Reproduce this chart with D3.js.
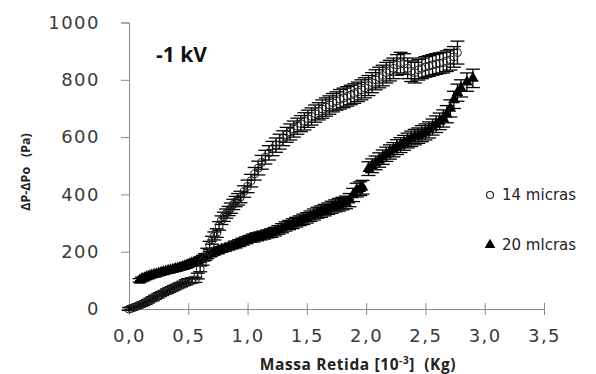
<!DOCTYPE html>
<html>
<head>
<meta charset="utf-8">
<script src="https://cdn.jsdelivr.net/npm/d3@7"></script>
<style>
  body { margin: 0; background: #fff; }
  svg { display: block; }
</style>
</head>
<body>
<svg id="chart" width="596" height="374"></svg>
<script>
// [massa, deltaP, erro]
const micras14 = [
  [0.00, 0, 5], [0.02, 2, 5], [0.04, 5, 5], [0.06, 8, 5], [0.08, 12, 6], [0.10, 15, 6],
  [0.12, 18, 6], [0.14, 22, 6], [0.16, 27, 6], [0.18, 32, 6], [0.20, 36, 7], [0.22, 41, 7],
  [0.24, 45, 7], [0.26, 50, 7], [0.28, 54, 7], [0.30, 58, 7], [0.32, 62, 8], [0.34, 66, 8],
  [0.36, 70, 8], [0.38, 74, 8], [0.40, 78, 8], [0.42, 82, 8], [0.44, 85, 8], [0.46, 89, 8],
  [0.48, 93, 9], [0.50, 97, 9], [0.53, 100, 9], [0.56, 102, 9], [0.58, 115, 10], [0.60, 140, 10],
  [0.62, 165, 12], [0.64, 181, 12], [0.66, 200, 12], [0.68, 222, 14], [0.70, 240, 14], [0.72, 255, 14],
  [0.74, 265, 15], [0.76, 290, 15], [0.78, 310, 15], [0.80, 322, 16], [0.82, 333, 16], [0.84, 342, 16],
  [0.86, 352, 18], [0.88, 365, 18], [0.90, 375, 18], [0.92, 383, 20], [0.94, 391, 20], [0.97, 410, 20],
  [1.00, 428, 22], [1.03, 448, 22], [1.06, 472, 22], [1.09, 492, 24], [1.12, 512, 24], [1.15, 530, 24],
  [1.18, 545, 25], [1.21, 560, 25], [1.24, 572, 25], [1.27, 584, 26], [1.30, 596, 26], [1.33, 608, 26],
  [1.36, 618, 28], [1.39, 628, 28], [1.42, 638, 28], [1.45, 647, 28], [1.48, 655, 30], [1.51, 664, 30],
  [1.54, 672, 30], [1.57, 682, 30], [1.60, 690, 30], [1.63, 698, 32], [1.66, 705, 32], [1.69, 712, 32],
  [1.72, 720, 32], [1.75, 726, 32], [1.78, 732, 34], [1.81, 737, 34], [1.84, 742, 34], [1.87, 747, 34],
  [1.90, 752, 34], [1.93, 758, 34], [1.96, 765, 35], [1.99, 772, 35], [2.02, 780, 35], [2.05, 790, 35],
  [2.08, 800, 35], [2.11, 808, 36], [2.14, 815, 36], [2.17, 825, 36], [2.20, 832, 36], [2.23, 840, 36],
  [2.26, 852, 36], [2.29, 860, 36], [2.32, 855, 36], [2.35, 840, 36], [2.38, 830, 36], [2.41, 825, 36],
  [2.44, 835, 36], [2.47, 840, 36], [2.50, 845, 36], [2.53, 848, 36], [2.56, 852, 36], [2.59, 855, 36],
  [2.62, 858, 36], [2.65, 860, 36], [2.68, 865, 36], [2.71, 870, 36], [2.74, 880, 36], [2.77, 895, 40]
];

const micras20 = [
  [0.09, 100, 6], [0.11, 105, 6], [0.13, 108, 6], [0.15, 112, 6], [0.17, 115, 6], [0.19, 118, 6],
  [0.21, 120, 6], [0.23, 122, 6], [0.25, 125, 6], [0.27, 127, 6], [0.29, 130, 7], [0.31, 132, 7],
  [0.33, 134, 7], [0.35, 136, 7], [0.37, 138, 7], [0.39, 140, 7], [0.41, 142, 7], [0.43, 145, 7],
  [0.45, 147, 8], [0.47, 150, 8], [0.49, 153, 8], [0.51, 157, 8], [0.53, 160, 8], [0.55, 163, 8],
  [0.57, 167, 8], [0.60, 172, 8], [0.63, 178, 9], [0.66, 185, 9], [0.69, 192, 9], [0.72, 198, 9],
  [0.75, 203, 10], [0.78, 208, 10], [0.81, 212, 10], [0.84, 216, 10], [0.87, 220, 10], [0.90, 225, 12],
  [0.93, 230, 12], [0.96, 235, 12], [0.99, 240, 12], [1.02, 245, 12], [1.05, 248, 14], [1.08, 252, 14],
  [1.11, 255, 14], [1.14, 258, 14], [1.17, 262, 14], [1.20, 265, 15], [1.23, 270, 15], [1.26, 276, 15],
  [1.29, 282, 16], [1.32, 288, 16], [1.35, 293, 16], [1.38, 298, 17], [1.41, 303, 17], [1.44, 308, 17],
  [1.47, 313, 18], [1.50, 318, 18], [1.53, 324, 18], [1.56, 330, 19], [1.59, 336, 19], [1.62, 340, 20],
  [1.65, 345, 20], [1.68, 350, 20], [1.71, 355, 21], [1.74, 360, 21], [1.77, 364, 22], [1.80, 368, 22],
  [1.83, 372, 22], [1.86, 380, 23], [1.89, 398, 23], [1.92, 415, 24], [1.95, 420, 24], [1.97, 425, 24],
  [2.02, 490, 24], [2.05, 500, 24], [2.08, 510, 24], [2.11, 520, 25], [2.14, 530, 25], [2.17, 540, 25],
  [2.20, 548, 25], [2.23, 556, 25], [2.26, 565, 26], [2.29, 572, 26], [2.32, 580, 26], [2.35, 588, 26],
  [2.38, 594, 27], [2.41, 600, 27], [2.44, 605, 27], [2.47, 612, 28], [2.50, 618, 28], [2.53, 625, 28],
  [2.56, 635, 28], [2.59, 645, 29], [2.62, 655, 29], [2.65, 665, 30], [2.68, 680, 30], [2.71, 700, 30],
  [2.74, 730, 30], [2.77, 755, 30], [2.80, 770, 30], [2.85, 792, 32], [2.90, 805, 32]
];

const xTicks = [0, 0.5, 1, 1.5, 2, 2.5, 3, 3.5];
const yTicks = [0, 200, 400, 600, 800, 1000];
const seriesNames = ['14 micras', '20 mlcras'];

const svg = d3.select('#chart');
const x = d3.scaleLinear().domain([0, 3.5]).range([129, 544]);
const y = d3.scaleLinear().domain([0, 1000]).range([309, 22.5]);
const axisColor = '#8a8a8a';
const labelFont = '"DejaVu Sans", sans-serif';
const fmt = d => d.toFixed(1).replace('.', ',');

// x axis, ticks cross the line
const gx = svg.append('g')
  .attr('transform', 'translate(0,' + y(0) + ')')
  .call(d3.axisBottom(x).tickValues(xTicks).tickFormat(fmt).tickSizeOuter(0).tickSize(6).tickPadding(14));
gx.select('.domain').attr('stroke', axisColor);
gx.selectAll('.tick line').attr('y1', -6).attr('y2', 6).attr('stroke', axisColor);
gx.selectAll('.tick text')
  .attr('fill', '#3a3a3a').style('font-family', labelFont).style('font-size', '18px')
  .style('letter-spacing', '1.5px');

// y axis
const gy = svg.append('g')
  .attr('transform', 'translate(' + x(0) + ',0)')
  .call(d3.axisLeft(y).tickValues(yTicks).tickFormat(d3.format('d')).tickSizeOuter(0).tickSize(8).tickPadding(21));
gy.select('.domain').attr('stroke', axisColor);
gy.selectAll('.tick line').attr('stroke', axisColor);
gy.selectAll('.tick').filter(d => d === 0).select('line').remove();
gy.selectAll('.tick text')
  .attr('fill', '#3a3a3a').style('font-family', labelFont).style('font-size', '18px')
  .style('letter-spacing', '1.5px');

// error bars
function errorBars(data, cap) {
  const g = svg.append('g').attr('stroke', '#000').attr('stroke-width', 1.3);
  g.selectAll('line.v').data(data).join('line')
    .attr('x1', d => x(d[0])).attr('x2', d => x(d[0]))
    .attr('y1', d => y(d[1] - d[2])).attr('y2', d => y(d[1] + d[2]));
  g.selectAll('line.top').data(data).join('line').attr('class', 'top')
    .attr('x1', d => x(d[0]) - cap).attr('x2', d => x(d[0]) + cap)
    .attr('y1', d => y(d[1] + d[2])).attr('y2', d => y(d[1] + d[2]));
  g.selectAll('line.bot').data(data).join('line').attr('class', 'bot')
    .attr('x1', d => x(d[0]) - cap).attr('x2', d => x(d[0]) + cap)
    .attr('y1', d => y(d[1] - d[2])).attr('y2', d => y(d[1] - d[2]));
}
errorBars(micras14, 7);
errorBars(micras20, 7);

const tri = d3.symbol().type(d3.symbolTriangle).size(60);

svg.append('g').selectAll('path').data(micras20).join('path')
  .attr('transform', d => 'translate(' + x(d[0]) + ',' + y(d[1]) + ')')
  .attr('d', tri).attr('fill', '#000');

svg.append('g').selectAll('circle').data(micras14).join('circle')
  .attr('cx', d => x(d[0])).attr('cy', d => y(d[1])).attr('r', 4)
  .attr('fill', 'none').attr('stroke', '#222').attr('stroke-width', 1);

// legend
const legend = svg.append('g').style('font-family', labelFont).style('font-size', '15px').attr('fill', '#222');
legend.append('circle').attr('cx', 490).attr('cy', 195).attr('r', 3.5)
  .attr('fill', 'none').attr('stroke', '#222').attr('stroke-width', 1.2);
legend.append('text').attr('x', 502).attr('y', 200).text(seriesNames[0]);
legend.append('path').attr('transform', 'translate(490,245)')
  .attr('d', d3.symbol().type(d3.symbolTriangle).size(50)).attr('fill', '#000');
legend.append('text').attr('x', 502).attr('y', 250).text(seriesNames[1]);

// title
svg.append('text').attr('x', 156).attr('y', 62)
  .style('font-family', '"Open Sans", sans-serif').style('font-weight', 'bold').style('font-size', '21px')
  .attr('fill', '#111').text('-1 kV');

// axis titles
const xt = svg.append('text').attr('x', 358).attr('y', 370).attr('text-anchor', 'middle')
  .style('font-family', '"Open Sans", sans-serif').style('font-weight', 'bold').style('font-size', '15.5px')
  .style('letter-spacing', '0.6px').attr('fill', '#222');
xt.append('tspan').text('Massa Retida [10');
xt.append('tspan').attr('dy', -6).style('font-size', '10px').text('-3');
xt.append('tspan').attr('dy', 6).attr('xml:space', 'preserve').text(']  (Kg)');

svg.append('text').attr('transform', 'translate(30,172) rotate(-90)').attr('text-anchor', 'middle')
  .style('font-family', '"Open Sans", sans-serif').style('font-weight', 'bold').style('font-size', '12.5px')
  .attr('fill', '#222').attr('xml:space', 'preserve').text('ΔP-ΔPo   (Pa)');
</script>
</body>
</html>
